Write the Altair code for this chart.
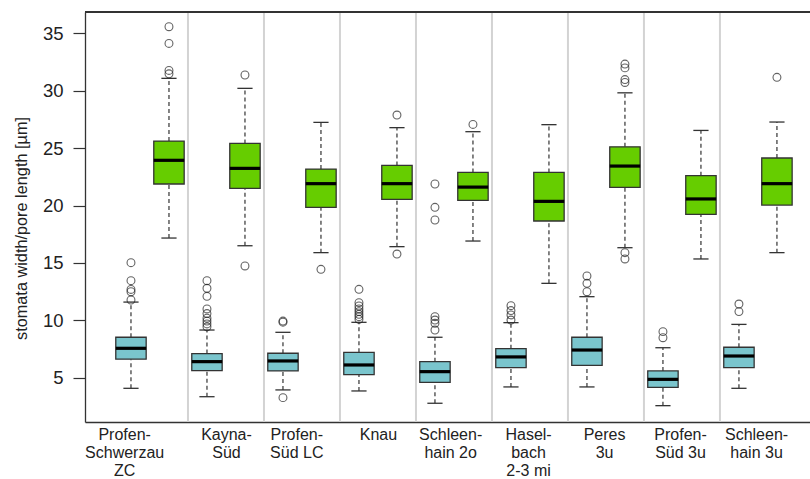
import json
import altair as alt
import pandas as pd

# ---- data ----
groups = ["Profen-\nSchwerzau\nZC", "Kayna-\nSüd", "Profen-\nSüd LC", "Knau",
          "Schleen-\nhain 2o", "Hasel-\nbach\n2-3 mi", "Peres\n3u",
          "Profen-\nSüd 3u", "Schleen-\nhain 3u"]
# where each group's label sits on the x axis (the first one is shifted left in the original)
label_at = [0.82, 3.5, 5.35, 7.5, 9.4, 11.45, 13.45, 15.45, 17.45]

# [lower whisker, Q1, median, Q3, upper whisker]
pore_stats = [
    [4.10, 6.63, 7.58, 8.54, 11.60],
    [3.37, 5.64, 6.42, 7.12, 9.17],
    [3.96, 5.61, 6.48, 7.15, 8.97],
    [3.87, 5.29, 6.13, 7.23, 9.84],
    [2.80, 4.62, 5.55, 6.42, 8.54],
    [4.22, 5.90, 6.83, 7.55, 9.81],
    [4.22, 6.10, 7.43, 8.54, 12.07],
    [2.59, 4.19, 4.88, 5.61, 7.63],
    [4.10, 5.90, 6.91, 7.67, 9.66],
]
pore_outliers = [
    [15.03, 13.46, 12.70, 12.50, 11.78],
    [13.46, 12.80, 12.10, 11.00, 10.60, 10.20, 9.95, 9.70, 9.45],
    [9.95, 9.85, 3.29],
    [12.71, 11.55, 11.26, 11.00, 10.77, 10.54, 10.33, 10.10],
    [21.87, 19.84, 18.74, 10.33, 10.04, 9.75, 9.17],
    [11.29, 10.86, 10.48, 10.04],
    [13.87, 13.23, 12.50],
    [9.03, 8.50],
    [11.43, 10.77],
]
width_stats = [
    [17.17, 21.87, 23.93, 25.60, 31.06],
    [16.50, 21.49, 23.23, 25.40, 30.19],
    [15.90, 19.83, 21.90, 23.17, 27.23],
    [16.42, 20.53, 21.90, 23.49, 26.77],
    [16.91, 20.45, 21.60, 22.88, 26.42],
    [13.23, 18.65, 20.36, 22.88, 27.03],
    [16.33, 21.57, 23.43, 25.10, 29.80],
    [15.35, 19.23, 20.57, 22.59, 26.53],
    [15.90, 20.04, 21.90, 24.13, 27.26],
]
width_outliers = [
    [35.55, 34.10, 31.75, 31.45],
    [31.35, 14.74],
    [14.45],
    [27.87, 15.78],
    [27.05],
    [],
    [32.30, 31.97, 30.95, 30.70, 15.90, 15.35],
    [],
    [31.15],
]
series = ["pore", "width"]
colors = ["#7AC5CD", "#66CD00"]

# ---- tables ----
box_rows, out_rows = [], []
for g in range(len(groups)):
    for s, (stats, outs) in enumerate([(pore_stats, pore_outliers), (width_stats, width_outliers)]):
        pos = 2 * g + 1 + s
        lo, q1, med, q3, hi = stats[g]
        box_rows.append(dict(pos=pos, series=series[s], lo=lo, q1=q1, med=med, q3=q3, hi=hi))
        for v in outs[g]:
            out_rows.append(dict(pos=pos, series=series[s], v=v))
boxes = pd.DataFrame(box_rows)
outl = pd.DataFrame(out_rows)
seps = pd.DataFrame({"x": [2 * g + 0.5 for g in range(1, len(groups))]})

xscale = alt.Scale(domain=[-0.21, 18.87], nice=False, zero=False)
yscale = alt.Scale(domain=[1.17, 36.83], nice=False, zero=False)

names_pipe = [n.replace("\n", "|") for n in groups]
label_expr = "split(" + json.dumps(names_pipe) + "[floor(datum.value / 2)], '|')"

xaxis = alt.Axis(values=label_at, labelExpr=label_expr,
                 ticks=False, tickSize=0, domain=True, domainColor="#333", domainWidth=1.3,
                 grid=False, title=None,
                 labelFont="Liberation Sans", labelFontSize=16, labelColor="#222",
                 labelAlign="center", labelBaseline="top",
                 labelPadding=4, labelLineHeight=18.2, labelOverlap=False,
                 labelFlush=False, labelBound=False)
yaxis = alt.Axis(values=[5, 10, 15, 20, 25, 30, 35], grid=False,
                 domain=True, domainColor="#333", domainWidth=1.3,
                 tickSize=12, tickColor="#333", tickWidth=1.2,
                 labelFont="Liberation Sans", labelFontSize=18.5, labelColor="#222",
                 labelPadding=10,
                 title="stomata width/pore length [µm]", titleFont="Liberation Sans",
                 titleFontSize=16.3, titleFontWeight="normal", titleColor="#222",
                 titleX=-64, titleY=216, titleAngle=-90, titleAlign="center",
                 titleBaseline="middle")

base = alt.Chart(boxes)

sep_layer = alt.Chart(seps).mark_rule(color="#D3D3D3", strokeWidth=2).encode(
    x=alt.X("x:Q", scale=xscale, axis=xaxis))

# top frame line of the plot box
top_frame = alt.Chart(seps).mark_rule(color="#333", strokeWidth=1.3).encode(
    y=alt.value(0))

whisk_up = base.mark_rule(color="#333", strokeWidth=1.2, strokeDash=[4, 3]).encode(
    x=alt.X("pos:Q", scale=xscale, axis=xaxis),
    y=alt.Y("q3:Q", scale=yscale, axis=yaxis), y2="hi:Q")
whisk_lo = base.mark_rule(color="#333", strokeWidth=1.2, strokeDash=[4, 3]).encode(
    x=alt.X("pos:Q", scale=xscale), y=alt.Y("lo:Q", scale=yscale), y2="q1:Q")

caps_hi = base.transform_calculate(a="datum.pos - 0.2", b="datum.pos + 0.2").mark_rule(
    color="#333", strokeWidth=1.3).encode(
    x=alt.X("a:Q", scale=xscale), x2="b:Q", y=alt.Y("hi:Q", scale=yscale))
caps_lo = base.transform_calculate(a="datum.pos - 0.2", b="datum.pos + 0.2").mark_rule(
    color="#333", strokeWidth=1.3).encode(
    x=alt.X("a:Q", scale=xscale), x2="b:Q", y=alt.Y("lo:Q", scale=yscale))

box_layer = base.transform_calculate(a="datum.pos - 0.4", b="datum.pos + 0.4").mark_rect(
    stroke="#333", strokeWidth=1.3).encode(
    x=alt.X("a:Q", scale=xscale), x2="b:Q",
    y=alt.Y("q1:Q", scale=yscale), y2="q3:Q",
    color=alt.Color("series:N", scale=alt.Scale(domain=series, range=colors), legend=None))

med_layer = base.transform_calculate(a="datum.pos - 0.4", b="datum.pos + 0.4").mark_rule(
    color="#000", strokeWidth=3.2).encode(
    x=alt.X("a:Q", scale=xscale), x2="b:Q", y=alt.Y("med:Q", scale=yscale))

out_layer = alt.Chart(outl).mark_point(shape="circle", filled=False, size=62,
                                        strokeWidth=1.1, color="#222").encode(
    x=alt.X("pos:Q", scale=xscale), y=alt.Y("v:Q", scale=yscale))

chart = alt.layer(sep_layer, top_frame, whisk_up, whisk_lo, caps_hi, caps_lo, box_layer,
                  med_layer, out_layer).properties(
    width=725, height=410,
    autosize=alt.AutoSizeParams(type="none"),
    padding={"left": 85, "top": 12, "right": 0, "bottom": 57},
    background="white",
).configure_view(stroke=None)

chart.save("out.html", embed_options={"renderer": "svg", "actions": False})
